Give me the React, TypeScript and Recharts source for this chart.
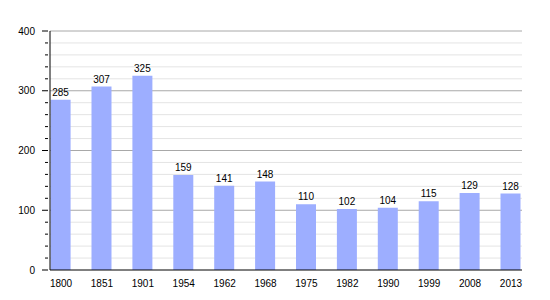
import React from 'react';
import { BarChart, Bar, XAxis, YAxis, CartesianGrid, LabelList } from 'recharts';

const years = ['1800', '1851', '1901', '1954', '1962', '1968', '1975', '1982', '1990', '1999', '2008', '2013'];
const population = [285, 307, 325, 159, 141, 148, 110, 102, 104, 115, 129, 128];
const yTicks = [0, 20, 40, 60, 80, 100, 120, 140, 160, 180, 200, 220, 240, 260, 280, 300, 320, 340, 360, 380, 400];
const majorTicks = [100, 200, 300, 400];
const minorTicks = yTicks.filter((v) => v % 100 !== 0);

const data = years.map((y, i) => ({ i, year: y, value: population[i] }));
const xTicks = data.map((d) => d.i);

const FONT = 'Liberation Sans, Arial, sans-serif';

const YTick = (props: any) => {
  const { x, y, payload } = props;
  const v = payload.value;
  const major = v % 100 === 0;
  const ax = x;
  return (
    <g>
      <line x1={ax - (major ? 6 : 3)} x2={ax} y1={y} y2={y} stroke="#000" strokeWidth={1} />
      {major && (
        <text x={ax - 13} y={y} dy="0.35em" textAnchor="end" fontSize={10} fontFamily={FONT} fill="#000">
          {v}
        </text>
      )}
    </g>
  );
};

export default function App() {
  return (
    <div style={{ position: 'absolute', left: 0, top: 0, background: '#fff' }}>
      <BarChart width={550} height={300} data={data} margin={{ top: 31, right: 28, bottom: 0, left: 0 }}>
        <CartesianGrid vertical={false} horizontalValues={minorTicks} stroke="#e4e4e4" strokeWidth={1} />
        <CartesianGrid vertical={false} horizontalValues={majorTicks} stroke="#a8a8a8" strokeWidth={1} />
        <XAxis
          dataKey="i"
          type="number"
          domain={[-0.27, 11.27]}
          ticks={xTicks}
          tickFormatter={(v: number) => years[v]}
          allowDecimals={false}
          height={30}
          tickLine={false}
          tickMargin={4}
          axisLine={{ stroke: '#000', strokeWidth: 1 }}
          tick={{ fontSize: 10, fontFamily: FONT, fill: '#000' }}
        />
        <YAxis
          width={50}
          domain={[0, 400]}
          ticks={yTicks}
          interval={0}
          tickSize={0}
          tickLine={false}
          axisLine={{ stroke: '#000', strokeWidth: 1 }}
          tick={<YTick />}
        />
        <Bar dataKey="value" fill="#9daeff" barSize={20} isAnimationActive={false}>
          <LabelList dataKey="value" position="top" offset={4} fontSize={10} fontFamily={FONT} fill="#000" />
        </Bar>
      </BarChart>
    </div>
  );
}
